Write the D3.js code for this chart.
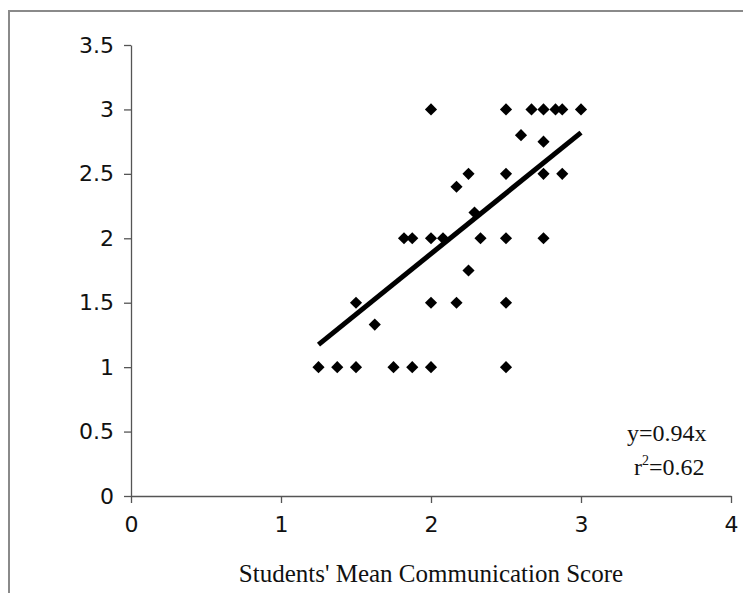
<!DOCTYPE html>
<html>
<head>
<meta charset="utf-8">
<script src="https://cdn.jsdelivr.net/npm/d3@7"></script>
<style>
    body { margin: 0; background: #fff; }
    .axis path, .axis line { stroke: #555; stroke-width: 1.3; }
    .axis text { font-family: "DejaVu Sans", Verdana, sans-serif; font-size: 22px; fill: #111; }
</style>
</head>
<body>
<svg id="chart" width="743" height="593"></svg>
<script>
'use strict';

// students' mean communication score vs. other score
const xValues = [2, 2.5, 2.67, 2.75, 2.83, 2.875, 3,
    2.6, 2.75,
    2.25, 2.5, 2.75, 2.875,
    2.17, 2.29,
    1.82, 1.875, 2, 2.08, 2.33, 2.5, 2.75,
    2.25,
    1.5, 2, 2.17, 2.5,
    1.625,
    1.25, 1.375, 1.5, 1.75, 1.875, 2, 2.5];
const yValues = [3, 3, 3, 3, 3, 3, 3,
    2.8, 2.75,
    2.5, 2.5, 2.5, 2.5,
    2.4, 2.2,
    2, 2, 2, 2, 2, 2, 2,
    1.75,
    1.5, 1.5, 1.5, 1.5,
    1.33,
    1, 1, 1, 1, 1, 1, 1];
const xTicks = [0, 1, 2, 3, 4];
const yTicks = [0, 0.5, 1, 1.5, 2, 2.5, 3, 3.5];
const slope = 0.94;
const equationLines = ["y=0.94x", "r2=0.62"];
const xTitle = "Students' Mean Communication Score";

const svg = d3.select("#chart");
const margin = { top: 45, right: 12, bottom: 97, left: 131 };
const width = 743 - margin.left - margin.right,
    height = 593 - margin.top - margin.bottom;

// outer frame (only top and left edges show)
svg.append("path")
    .attr("d", "M9,593 V11 H743")
    .attr("fill", "none")
    .attr("stroke", "#8a8a8a")
    .attr("stroke-width", 2);

const g = svg.append("g").attr("transform", "translate(" + margin.left + "," + margin.top + ")");

const xScale = d3.scaleLinear().domain([0, 4]).range([0, 600]);
const yScale = d3.scaleLinear().domain([0, 3.5]).range([height, 0]);

const fmt = d3.format("~g");
const xAxis = d3.axisBottom(xScale).tickValues(xTicks).tickSize(7).tickPadding(13).tickSizeOuter(0)
    .tickFormat(fmt);
const yAxis = d3.axisLeft(yScale).tickValues(yTicks).tickSize(7).tickPadding(10).tickSizeOuter(0)
    .tickFormat(fmt);

g.append("g")
    .attr("class", "x axis")
    .attr("transform", "translate(0," + height + ")")
    .call(xAxis);

g.append("g")
    .attr("class", "y axis")
    .call(yAxis);

// trend line through origin
const lineX = d3.extent(xValues);
g.append("line")
    .attr("x1", xScale(lineX[0]))
    .attr("y1", yScale(slope * lineX[0]))
    .attr("x2", xScale(lineX[1]))
    .attr("y2", yScale(slope * lineX[1]))
    .attr("stroke", "#000")
    .attr("stroke-width", 5);

const diamond = d3.symbol().type(d3.symbolSquare).size(74);
g.selectAll("path.point")
    .data(xValues.map((x, i) => ({ x: x, y: yValues[i] })))
    .enter()
    .append("path")
    .attr("class", "point")
    .attr("d", diamond)
    .attr("transform", d => "translate(" + xScale(d.x) + "," + yScale(d.y) + ") rotate(45)")
    .attr("fill", "#000");

// equation
const eq = g.append("g")
    .attr("font-family", "'Liberation Serif', 'Times New Roman', serif")
    .attr("font-size", 24)
    .attr("fill", "#111");
eq.append("text")
    .attr("x", 496)
    .attr("y", 396)
    .text(equationLines[0]);
const r2 = eq.append("text")
    .attr("x", 503)
    .attr("y", 430);
r2.append("tspan").text(equationLines[1].slice(0, 1));
r2.append("tspan").attr("font-size", 14).attr("dy", -10).text(equationLines[1].slice(1, 2));
r2.append("tspan").attr("dy", 10).text(equationLines[1].slice(2));

// x axis title
svg.append("text")
    .attr("x", 431)
    .attr("y", 582)
    .attr("text-anchor", "middle")
    .attr("font-family", "'Liberation Serif', 'Times New Roman', serif")
    .attr("font-size", 25)
    .attr("fill", "#111")
    .text(xTitle);
</script>
</body>
</html>
